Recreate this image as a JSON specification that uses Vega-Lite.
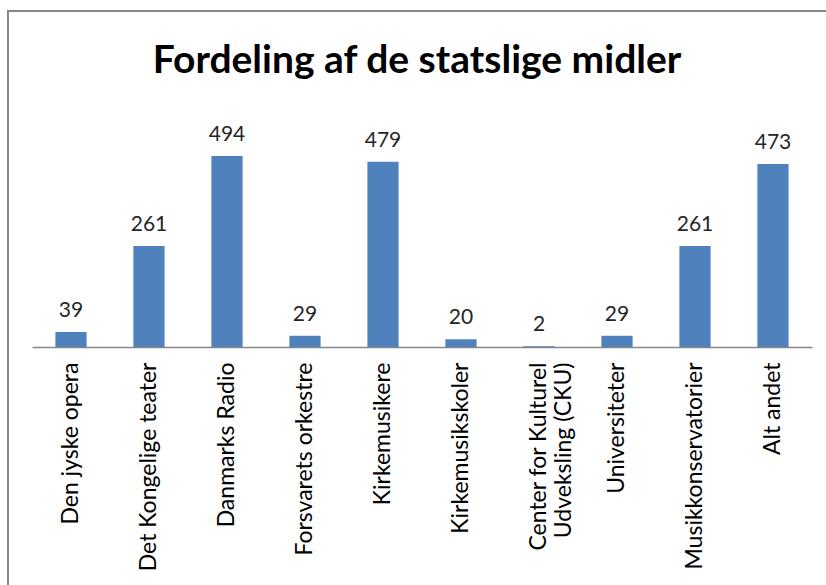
{
  "$schema": "https://vega.github.io/schema/vega-lite/v6.json",
  "autosize": "none",
  "width": 818,
  "height": 574,
  "padding": {"left": 8, "top": 11, "right": 0, "bottom": 0},
  "background": "white",
  "title": {
    "text": "Fordeling af de statslige midler",
    "font": "Lato",
    "fontSize": 39,
    "fontWeight": "bold",
    "color": "black",
    "anchor": "middle",
    "baseline": "alphabetic",
    "offset": -101
  },
  "config": {
    "view": {"stroke": "#878787", "strokeWidth": 2, "strokeDash": [818, 1392, 574]}
  },
  "data": {
    "values": [
      {"kategori": "Den jyske opera", "vaerdi": 39},
      {"kategori": "Det Kongelige teater", "vaerdi": 261},
      {"kategori": "Danmarks Radio", "vaerdi": 494},
      {"kategori": "Forsvarets orkestre", "vaerdi": 29},
      {"kategori": "Kirkemusikere", "vaerdi": 479},
      {"kategori": "Kirkemusikskoler", "vaerdi": 20},
      {"kategori": "Center for Kulturel Udveksling (CKU)", "vaerdi": 2},
      {"kategori": "Universiteter", "vaerdi": 29},
      {"kategori": "Musikkonservatorier", "vaerdi": 261},
      {"kategori": "Alt andet", "vaerdi": 473}
    ]
  },
  "encoding": {
    "x": {
      "field": "kategori",
      "type": "nominal",
      "sort": null,
      "scale": {"range": [24, 804], "paddingInner": 0.6, "paddingOuter": 0.3},
      "axis": {
        "title": null,
        "offset": -238,
        "ticks": false,
        "domainColor": "#878787",
        "domainWidth": 1.5,
        "labelAngle": -90,
        "labelAlign": "right",
        "labelBaseline": "middle",
        "labelPadding": 15,
        "labelFont": "Lato",
        "labelFontSize": 23,
        "labelColor": "black",
        "labelLimit": 0,
        "labelOverlap": false,
        "labelBound": false,
        "labelExpr": "datum.value == 'Center for Kulturel Udveksling (CKU)' ? ['Center for Kulturel', 'Udveksling (CKU)'] : datum.label"
      }
    },
    "y": {
      "field": "vaerdi",
      "type": "quantitative",
      "scale": {"domain": [0, 600], "range": [336, 104], "nice": false},
      "axis": null
    }
  },
  "layer": [
    {"mark": {"type": "bar", "color": "#4F81BD"}},
    {
      "mark": {"type": "text", "baseline": "alphabetic", "dy": -15, "font": "Lato", "fontSize": 21, "color": "#262626"},
      "encoding": {"text": {"field": "vaerdi", "type": "quantitative"}}
    }
  ]
}
